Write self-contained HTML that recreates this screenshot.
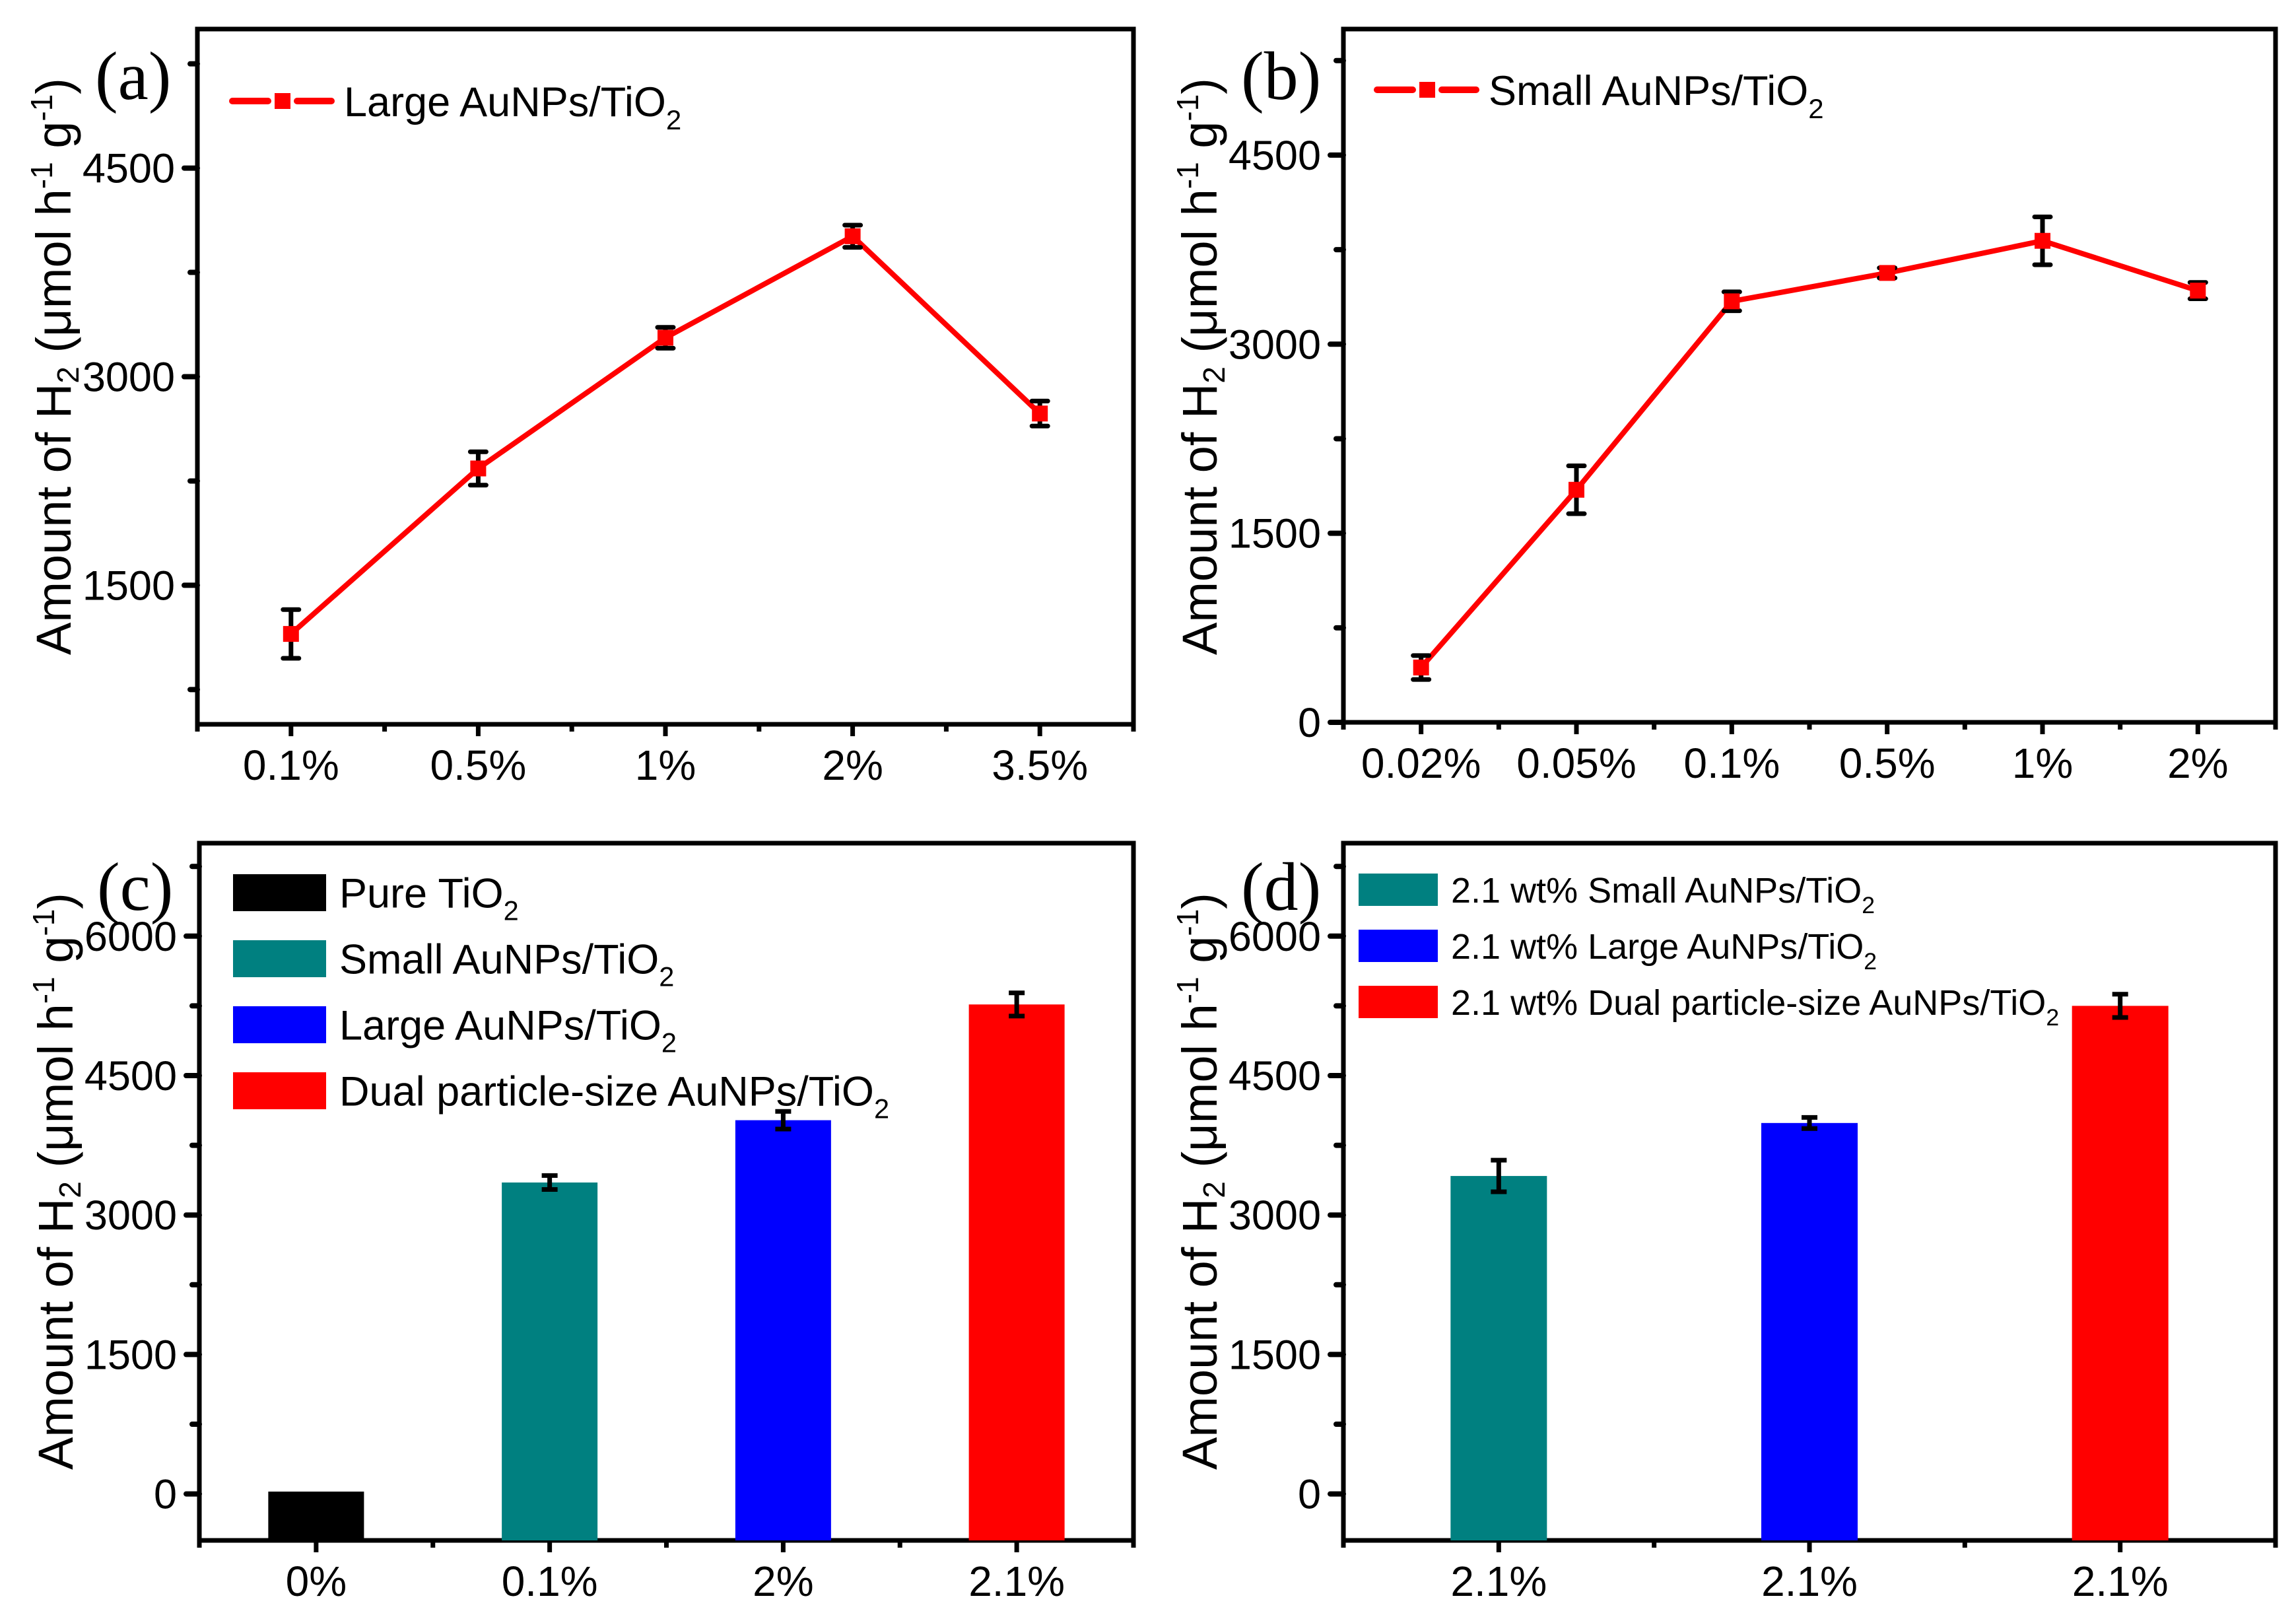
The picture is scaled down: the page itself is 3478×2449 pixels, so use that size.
<!DOCTYPE html>
<html><head><meta charset="utf-8"><style>
html,body{margin:0;padding:0;background:#fff;}
svg{display:block;}
text{font-family:"Liberation Sans",sans-serif;fill:#000;}
.ser{font-family:"Liberation Serif",serif;}
</style></head><body>
<svg id="fig" width="3478" height="2449" viewBox="0 0 3478 2449" xmlns="http://www.w3.org/2000/svg"></svg>
<script>
// ---- data ----
const catsA = ["0.1%","0.5%","1%","2%","3.5%"];
const valsA = [1150,2340,3280,4010,2735];
const errA  = [175,120,75,80,90];
const ticksA = [1500,3000,4500];
const minorA = [750,2250,3750,5250];

const catsB = ["0.02%","0.05%","0.1%","0.5%","1%","2%"];
const valsB = [435,1845,3340,3565,3820,3425];
const errB  = [95,190,75,40,190,65];
const ticksB = [0,1500,3000,4500];
const minorB = [750,2250,3750,5250];

const catsC = ["0%","0.1%","2%","2.1%"];
const valsC = [25,3350,4020,5265];
const errC  = [0,75,95,125];
const colorsC = ["#000000","#008080","#0000ff","#ff0000"];
const legendC = ["Pure TiO","Small AuNPs/TiO","Large AuNPs/TiO","Dual particle-size AuNPs/TiO"];
const ticksC = [0,1500,3000,4500,6000];
const minorC = [750,2250,3750,5250,6750];

const catsD = ["2.1%","2.1%","2.1%"];
const valsD = [3420,3990,5250];
const errD  = [170,60,125];
const colorsD = ["#008080","#0000ff","#ff0000"];
const legendD = ["2.1 wt% Small AuNPs/TiO","2.1 wt% Large AuNPs/TiO","2.1 wt% Dual particle-size AuNPs/TiO"];
const ticksD = [0,1500,3000,4500,6000];
const minorD = [750,2250,3750,5250,6750];

const NS="http://www.w3.org/2000/svg";
const svg=document.getElementById('fig');
function mk(tag,attrs,parent){const e=document.createElementNS(NS,tag);for(const k in attrs)e.setAttribute(k,attrs[k]);(parent||svg).appendChild(e);return e;}

function panel(p){
  const g=mk('g',{});
  
  
  const n=p.cats.length;
  const xs=i=>p.L+(p.R-p.L)*(i+0.5)/n;
  const ys=v=>p.B-(v-p.vmin)/(p.vmax-p.vmin)*(p.B-p.T);
  const fr=mk('rect',{x:p.L,y:p.T,width:p.R-p.L,height:p.B-p.T,fill:'none',stroke:'#000','stroke-width':7},g);
  
  
  p.ticks.forEach(v=>{
    const y=ys(v);
    const t=mk('line',{x1:p.L-20,x2:p.L,y1:y,y2:y,stroke:'#000','stroke-width':8,'stroke-linecap':'round'},g);
    
    
    const lb=mk('text',{x:p.L-34,y:y+22,'font-size':63,'text-anchor':'end'},g);
    lb.textContent=v;
    
    
  });
  p.minor.forEach(v=>{
    const y=ys(v);
    const t=mk('line',{x1:p.L-11,x2:p.L,y1:y,y2:y,stroke:'#000','stroke-width':8,'stroke-linecap':'round'},g);
    
    
  });
  for(let i=0;i<n;i++){
    const x=xs(i);
    const t=mk('line',{x1:x,x2:x,y1:p.B,y2:p.B+18,stroke:'#000','stroke-width':7},g);
    
    
    const lb=mk('text',{x:x,y:p.B+84,'font-size':64,'text-anchor':'middle'},g);
    lb.textContent=p.cats[i];
    
    
  }
  for(let i=0;i<=n;i++){
    const x=p.L+(p.R-p.L)*i/n;
    const t=mk('line',{x1:x,x2:x,y1:p.B,y2:p.B+11,stroke:'#000','stroke-width':7},g);
    
    
  }
  const yt=mk('text',{x:0,y:0,'font-size':74,'text-anchor':'middle',transform:`translate(${p.L-192},${p.titleY}) rotate(-90)`},g);
  yt.innerHTML='Amount of H<tspan font-size="46" dy="12">2</tspan><tspan dy="-12"> (μmol h</tspan><tspan font-size="46" dy="-28">-1</tspan><tspan dy="28"> g</tspan><tspan font-size="46" dy="-28">-1</tspan><tspan dy="28">)</tspan>';
  
  
  const pl=mk('text',{x:p.L-155,y:p.labelY,'font-size':104,class:'ser'},g);
  pl.textContent=p.label;
  
  
  if(p.type==='line'){
    const pts=p.vals.map((v,i)=>xs(i)+','+ys(v)).join(' ');
    const pl2=mk('polyline',{points:pts,fill:'none',stroke:'#ff0000','stroke-width':8,'stroke-linejoin':'round'},g);
    
    
    p.vals.forEach((v,i)=>{
      const x=xs(i),y=ys(v),e=p.err[i];
      const eb=mk('path',{d:`M${x},${ys(v+e)}V${ys(v-e)}M${x-12},${ys(v+e)}H${x+12}M${x-12},${ys(v-e)}H${x+12}`,stroke:'#000','stroke-width':7,fill:'none','stroke-linecap':'round'},g);
      
      
      const m=mk('rect',{x:x-12,y:y-12,width:24,height:24,fill:'#ff0000'},g);
      
      
    });
    const lx=p.legX, ly=p.legY;
    const l1=mk('path',{d:`M${lx},${ly}H${lx+54}M${lx+98},${ly}H${lx+150}`,stroke:'#ff0000','stroke-width':10,'stroke-linecap':'round'},g);
    
    
    const lm=mk('rect',{x:lx+64,y:ly-12,width:24,height:24,fill:'#ff0000'},g);
    
    
    const lt=mk('text',{x:lx+169,y:ly+23,'font-size':63},g);
    lt.innerHTML=p.legend+'<tspan font-size="42" dy="20">2</tspan>';
    
    
  } else {
    p.vals.forEach((v,i)=>{
      const x=xs(i);
      const b=mk('rect',{x:x-p.bw/2,y:ys(v),width:p.bw,height:p.B-ys(v),fill:p.colors[i]},g);
      
      
      const e=p.err[i];
      if(e>0){
        const eb=mk('path',{d:`M${x},${ys(v+e)}V${ys(v-e)}M${x-12},${ys(v+e)}H${x+12}M${x-12},${ys(v-e)}H${x+12}`,stroke:'#000','stroke-width':7,fill:'none'},g);
        
        
      }
    });
    p.legend.forEach((s,i)=>{
      const y0=p.legY+i*p.legStep;
      const r=mk('rect',{x:p.legX,y:y0,width:p.legW,height:p.legH,fill:p.colors[i]},g);
      
      
      const t=mk('text',{x:p.legX+p.legW+20,y:y0+p.legH/2+p.fs*0.36,'font-size':p.fs},g);
      t.innerHTML=s+`<tspan font-size="${p.fs*0.66}" dy="${p.fs*0.3}">2</tspan>`;
      
      
    });
  }
}

panel({name:'panel-a',type:'line',label:'(a)',L:299,R:1717,T:44,B:1097,vmin:500,vmax:5500,cats:catsA,vals:valsA,err:errA,ticks:ticksA,minor:minorA,titleY:555,labelY:150,legX:352,legY:153,legend:'Large AuNPs/TiO'});
panel({name:'panel-b',type:'line',label:'(b)',L:2035,R:3447,T:44,B:1094,vmin:0,vmax:5500,cats:catsB,vals:valsB,err:errB,ticks:ticksB,minor:minorB,titleY:555,labelY:150,legX:2086,legY:136,legend:'Small AuNPs/TiO'});
panel({name:'panel-c',type:'bar',label:'(c)',L:302,R:1717,T:1277,B:2333,vmin:-500,vmax:7000,cats:catsC,vals:valsC,err:errC,ticks:ticksC,minor:minorC,titleY:1789,labelY:1378,bw:145,colors:colorsC,legend:legendC,legX:353,legY:1324,legW:141,legH:56,legStep:100,fs:63});
panel({name:'panel-d',type:'bar',label:'(d)',L:2035,R:3447,T:1277,B:2333,vmin:-500,vmax:7000,cats:catsD,vals:valsD,err:errD,ticks:ticksD,minor:minorD,titleY:1789,labelY:1378,bw:146,colors:colorsD,legend:legendD,legX:2058,legY:1323,legW:120,legH:49,legStep:85,fs:54});
</script>
</body></html>
